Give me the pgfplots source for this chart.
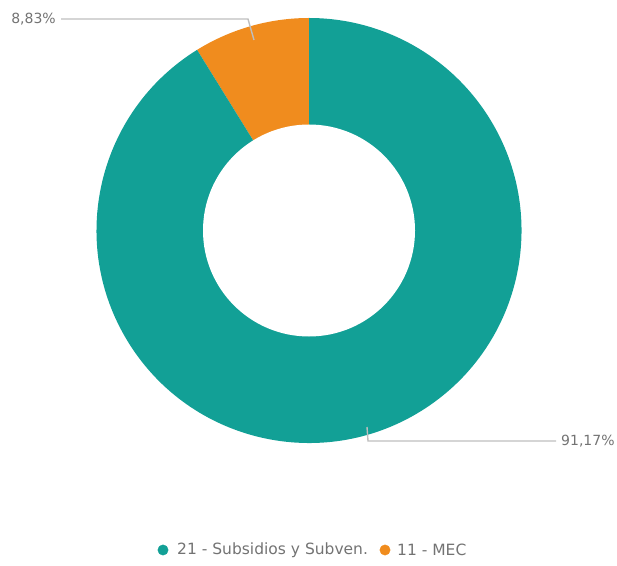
\documentclass[border=0pt]{standalone}
\usepackage{pgfplots}
\pgfplotsset{compat=1.18}
\usepackage{pgfplotstable}
\usepackage{fontspec}
\setmainfont{DejaVu Sans}
\definecolor{tealc}{RGB}{18,160,150}
\definecolor{orangec}{RGB}{240,140,30}
\definecolor{lbl}{RGB}{115,115,115}
\definecolor{lead}{RGB}{190,190,190}
\pgfplotstableread{
val
91.17
8.83
}\data
\begin{document}
\begin{tikzpicture}
\pgfplotstablegetelem{0}{val}\of\data \let\va\pgfplotsretval
\pgfplotstablegetelem{1}{val}\of\data \let\vb\pgfplotsretval
\pgfmathsetmacro{\ab}{90+3.6*\vb}
\pgfmathsetmacro{\ae}{\ab+3.6*\va}
\begin{axis}[width=617pt,height=565pt,scale only axis,
  xmin=0,xmax=617,ymin=0,ymax=565,hide axis,clip=false]
\path (axis cs:0,0) rectangle (axis cs:617,565);
\fill[orangec] (axis cs:309,334.5) -- ++(90:212.5pt) arc[start angle=90,end angle=\ab,radius=212.5pt] -- cycle;
\fill[tealc] (axis cs:309,334.5) -- ++(\ab:212.5pt) arc[start angle=\ab,end angle=\ae,radius=212.5pt] -- cycle;
\fill[white] (axis cs:309,334.5) circle[radius=106pt];
% leaders
\draw[lead,line width=1.4pt] (axis cs:254,525) -- (axis cs:248,546) -- (axis cs:61,546);
\draw[lead,line width=1.4pt] (axis cs:367,138) -- (axis cs:368,124) -- (axis cs:556,124);
\node[anchor=east,text=lbl,font=\fontsize{14}{16}\selectfont,inner sep=0pt] at (axis cs:56,546) {8,83\%};
\node[anchor=west,text=lbl,font=\fontsize{14}{16}\selectfont,inner sep=0pt] at (axis cs:561,124) {91,17\%};
% legend
\addplot[only marks,mark=*,mark size=5.2pt,color=tealc] coordinates {(163,15)};
\addplot[only marks,mark=*,mark size=5.2pt,color=orangec] coordinates {(385,15)};
\node[anchor=west,text=lbl,font=\fontsize{15.5}{17}\selectfont,inner sep=0pt] at (axis cs:177,15) {21 - Subsidios y Subven.};
\node[anchor=west,text=lbl,font=\fontsize{15.5}{17}\selectfont,inner sep=0pt] at (axis cs:397,15) {11 - MEC};
\end{axis}
\end{tikzpicture}
\end{document}
